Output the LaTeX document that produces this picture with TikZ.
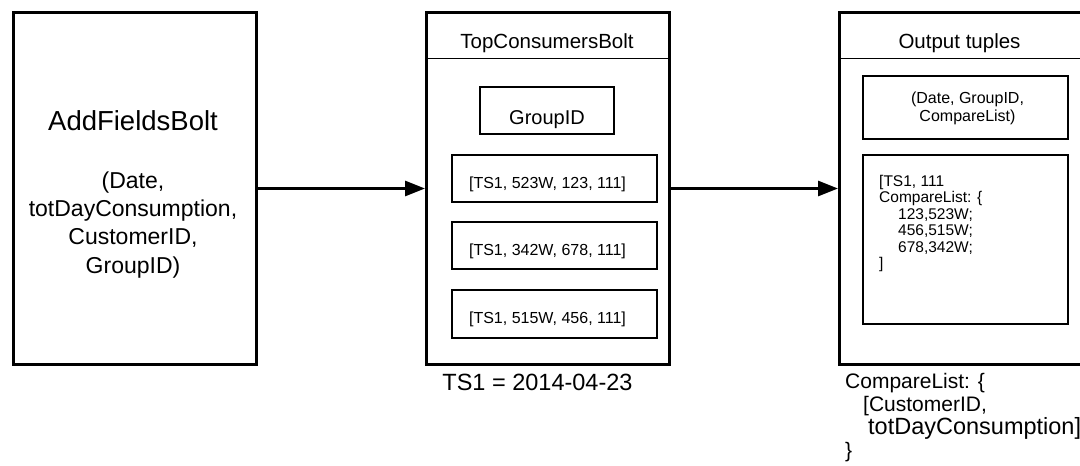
\documentclass[tikz,border=0pt]{standalone}
\usepackage{fontspec}
\setmainfont{Liberation Sans}
\usetikzlibrary{arrows.meta}

\newcommand{\fs}[2]{\fontsize{#1}{#2}\selectfont}

\tikzset{
  boltbox/.style={draw, line width=3pt, inner sep=0pt, anchor=north west,
                  minimum height=352pt},
  cellbox/.style={draw, line width=1.6pt, inner sep=0pt, minimum width=205pt},
  rule/.style={line width=1pt},
  flow/.style={line width=3pt, -{Triangle[length=20pt,width=15pt]}},
  txt/.style={inner sep=0pt, anchor=base},
}

\begin{document}
\begin{tikzpicture}[x=1pt, y=-1pt]
  \useasboundingbox[fill=white] (0,0) rectangle (1080,466);

  % ---- AddFieldsBolt ----
  % (multi-line nodes: the base anchor sits on the last line's baseline)
  \node[boltbox, minimum width=243pt] (afb) at (12,11) {};
  \node[txt, font=\fs{27.5}{33}] (afbname) at (133,130) {AddFieldsBolt};
  \node[txt, align=center, font=\fs{23}{28.3}] (afbfields) at (133,273)
    {(Date,\\totDayConsumption,\\CustomerID,\\GroupID)};

  % ---- TopConsumersBolt ----
  \node[boltbox, minimum width=243pt] (tcb) at (425,11) {};
  \draw[rule] ([yshift=-47pt]tcb.north west) -- ([yshift=-47pt]tcb.north east);
  \node[txt, font=\fs{20.5}{24}] (tcbtitle) at (547,48) {TopConsumersBolt};

  \node[cellbox, minimum width=134pt, minimum height=47pt] (gid) at (547,110.5) {};
  \node[txt, font=\fs{20}{24}] (gidtext) at ([yshift=-13.5pt]gid.center) {GroupID};

  \node[cellbox, minimum height=47pt] (row1) at (554.5,178.5) {};
  \node[cellbox, minimum height=47pt] (row2) at (554.5,245.5) {};
  \node[cellbox, minimum height=48pt] (row3) at (554.5,314) {};
  \node[txt, font=\fs{16}{19}] (row1text) at ([xshift=-7pt,yshift=-9.5pt]row1.center) {[TS1, 523W, 123, 111]};
  \node[txt, font=\fs{16}{19}] (row2text) at ([xshift=-7pt,yshift=-9.5pt]row2.center) {[TS1, 342W, 678, 111]};
  \node[txt, font=\fs{16}{19}] (row3text) at ([xshift=-7pt,yshift=-9pt]row3.center) {[TS1, 515W, 456, 111]};

  \node[txt, font=\fs{23.5}{28}] (tsnote) at (537.5,390) {TS1 = 2014-04-23};

  % ---- Output tuples ----
  \node[boltbox, minimum width=242pt] (out) at (838,11) {};
  \draw[rule] ([yshift=-47pt]out.north west) -- ([yshift=-47pt]out.north east);
  \node[txt, font=\fs{20.5}{24}] (outtitle) at (959.5,48) {Output tuples};

  \node[cellbox, minimum height=63pt] (schema) at (965.5,107.5) {};
  \node[txt, align=center, font=\fs{16}{18}] (schematext) at (967.5,121)
    {(Date, GroupID,\\CompareList)};

  \node[cellbox, minimum height=169pt] (result) at (965.5,239.5) {};
  \node[txt, anchor=base west, align=left, font=\fs{15.5}{16.5}] (resulttext) at (879,268.5)
    {[TS1, 111\\CompareList: \{\\\hspace*{19pt}123,523W;\\\hspace*{19pt}456,515W;\\\hspace*{19pt}678,342W;\\]};

  \node[txt, anchor=base west, align=left, font=\fs{21}{23}] (cmpnote) at (845,457)
    {CompareList: \{\\\hspace*{18pt}[CustomerID,\\\hspace*{23pt}{\fs{23.5}{23}totDayConsumption]}\\\}};

  % ---- data flow ----
  \draw[flow] (afb.east) -- (tcb.west);
  \draw[flow] (tcb.east) -- (out.west);
\end{tikzpicture}
\end{document}
